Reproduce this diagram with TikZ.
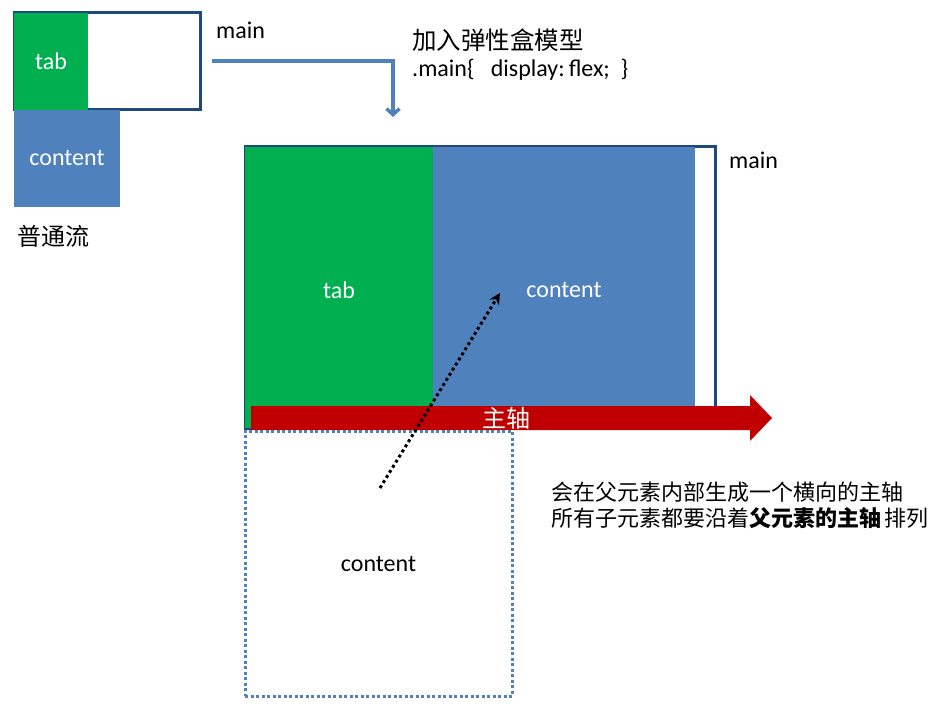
\documentclass[tikz,border=0pt]{standalone}
\usepackage{fontspec}
\setmainfont{Carlito}
\newfontfamily\cjk{Noto Sans CJK SC}
\usetikzlibrary{arrows.meta,positioning}
\definecolor{navy}{RGB}{31,73,125}
\definecolor{tabgreen}{RGB}{0,176,80}
\definecolor{flowblue}{RGB}{79,129,189}
\definecolor{axisred}{RGB}{192,0,0}
\def\fs(#1){\fontsize{#1}{#1}\selectfont}

\begin{document}
\begin{tikzpicture}[x=1pt,y=-1pt,
  box/.style={inner sep=0pt, outer sep=0pt},
  lbl/.style={inner sep=0pt, anchor=west, font=\fs(24)}]
\useasboundingbox (0,0) rectangle (935,706);

% normal flow
\node (main1) at (107,61.5) [box, draw=navy, line width=3pt, minimum width=186, minimum height=97] {};
\node (tab1) at (51,61.5) [box, fill=tabgreen, minimum width=74, minimum height=97, text=white, font=\fs(24)] {tab};
\node (content1) at (67,158.5) [box, fill=flowblue, minimum width=106, minimum height=97, text=white, font=\fs(24)] {content};
\node (mainlbl1) at (216,30) [lbl] {main};
\node (normal) at (17,236) [lbl, font=\cjk\fs(24)] {普通流};

% flex
\node (flexlbl) at (412,40) [lbl, font=\cjk\fs(24.5)] {加入弹性盒模型};
\node (flexcss) at (412,70) [lbl, font=\fs(24)] {.main\{\ \ \ display:\,flex;\ \ \}};
\coordinate (ea) at (212,61);
\coordinate (eb) at (393,117);
\draw[flowblue, line width=3.5pt, -{Straight Barb[length=6pt,width=13pt]}] (ea) -| (eb);

\node (main2) at (480,287.5) [box, draw=navy, line width=3pt, minimum width=470, minimum height=281] {};
\node (tab2) at (339,287.5) [box, fill=tabgreen, minimum width=188, minimum height=281] {};
\node (content2) at (564,276.5) [box, fill=flowblue, minimum width=262, minimum height=259] {};
\node (tablbl2) at (339,290) [box, text=white, font=\fs(24)] {tab};
\node (contentlbl2) at (564,290) [box, text=white, font=\fs(24)] {content};
\node (mainlbl2) at (729,160) [lbl] {main};

% main axis
\fill[axisred] (251,406) -- (750,406) -- (750,395) -- (772,418) -- (750,441) -- (750,430) -- (251,430) -- cycle;
\node (axis) at (506,418) [box, text=white, font=\cjk\fs(24)] {主轴};

\node (content3) at (378.5,563.5) [box, draw=flowblue, line width=3pt, dash pattern=on 3pt off 2.5pt, minimum width=267, minimum height=265, font=\fs(24)] {content};
\coordinate (da) at (380,488);
\coordinate (db) at (500,293);
\draw[line width=3pt, dash pattern=on 3pt off 3pt, -{Stealth[length=11pt,width=11pt]}] (da) -- (db);

\node (note1) at (551,492) [lbl, font=\cjk\fs(22)] {会在父元素内部生成一个横向的主轴};
\node (note2) at (551,518) [lbl, font=\cjk\fs(22)] {所有子元素都要沿着{\bfseries 父元素的主轴}\,排列};
\end{tikzpicture}
\end{document}
